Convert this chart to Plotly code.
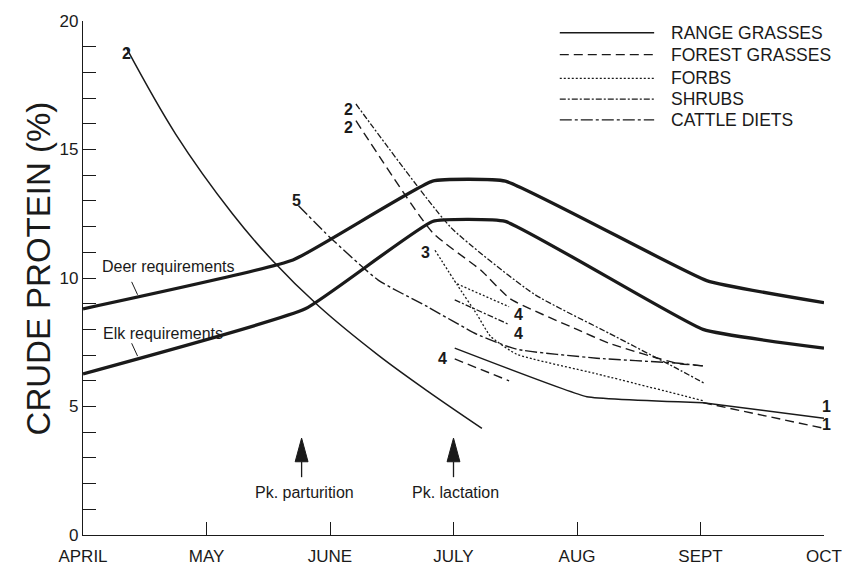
import plotly.graph_objects as go

# ---- axis categories -------------------------------------------------------
months = ["APRIL", "MAY", "JUNE", "JULY", "AUG", "SEPT", "OCT"]
month_pos = [0, 1, 2, 3, 4, 5, 6]          # months after 1 April
y_ticks = [0, 5, 10, 15, 20]
X_MAX, Y_MAX = 6, 20

# ---- animal requirements (crude protein, %) ---------------------------------
deer_x = [0.0, 1.70, 2.83, 3.42, 5.05, 6.0]
deer_y = [8.80, 10.70, 13.77, 13.77, 9.90, 9.04]
elk_x = [0.0, 1.80, 2.83, 3.42, 5.02, 6.0]
elk_y = [6.27, 8.80, 12.20, 12.20, 8.00, 7.27]

# ---- forage series, numbered by source -------------------------------------
range2_x = [0.35, 0.75, 1.21, 1.53, 1.91, 2.39, 2.79, 3.23]
range2_y = [18.96, 15.60, 12.50, 10.70, 8.90, 7.00, 5.60, 4.15]
range4_x = [3.01, 4.08, 5.02]
range4_y = [7.27, 5.38, 5.15]
range1_x = [5.02, 6.0]
range1_y = [5.15, 4.54]

forest2_x = [2.21, 2.83, 3.22, 3.46, 4.00, 4.26, 4.80, 5.02]
forest2_y = [16.12, 11.77, 10.31, 9.19, 8.00, 7.46, 6.69, 6.58]
forest4_x = [3.01, 3.45]
forest4_y = [6.85, 6.00]
forest1_x = [5.02, 6.0]
forest1_y = [5.15, 4.15]

forbs3_x = [2.85, 3.03, 3.19, 3.30, 3.51, 4.16, 5.02]
forbs3_y = [11.08, 9.73, 8.58, 7.73, 7.04, 6.27, 5.23]
forbs4_x = [3.03, 3.45]
forbs4_y = [9.77, 8.88]

shrubs2_x = [2.21, 2.98, 3.65, 4.26, 4.80, 5.04]
shrubs2_y = [16.77, 11.96, 9.38, 7.85, 6.50, 5.88]
shrubs4_x = [3.01, 3.45]
shrubs4_y = [9.15, 8.19]

cattle5_x = [1.745, 2.00, 2.39, 2.79, 3.19, 3.51, 4.16, 4.80, 5.02]
cattle5_y = [12.81, 11.58, 9.92, 8.88, 7.81, 7.23, 6.88, 6.69, 6.58]

# source numbers written beside the lines: (x, y, text)
source_labels = [
    (0.30, 19.15, "2"), (2.15, 16.96, "2"), (2.15, 16.27, "2"),
    (1.68, 13.00, "5"), (2.77, 11.00, "3"), (3.53, 8.58, "4"),
    (3.53, 7.85, "4"), (2.91, 6.85, "4"), (6.07, 4.58, "1"),
    (6.07, 3.88, "1"),
]

# peak events marked with arrows
events = ["Pk. parturition", "Pk. lactation"]
event_x = [1.77, 3.00]

legend_names = ["RANGE GRASSES", "FOREST GRASSES", "FORBS", "SHRUBS", "CATTLE DIETS"]

INK = "#1a1a1a"
FONT = "Liberation Sans, Arial, sans-serif"

STYLE = {
    "RANGE GRASSES": dict(dash="solid", width=1.5),
    "FOREST GRASSES": dict(dash="9px,5px", width=1.4),
    "FORBS": dict(dash="2px,2px", width=1.3),
    "SHRUBS": dict(dash="6px,2px,2px,2px", width=1.3),
    "CATTLE DIETS": dict(dash="12px,3px,3px,3px", width=1.4),
}

fig = go.Figure()


def add_line(x, y, kind=None, width=None, smooth=0.5):
    st = STYLE.get(kind, dict(dash="solid", width=1.5))
    fig.add_trace(go.Scatter(
        x=x, y=y, mode="lines", showlegend=False, hoverinfo="skip",
        line=dict(color=INK, width=width or st["width"], dash=st["dash"],
                  shape="spline", smoothing=smooth),
    ))


# requirement lines (heavy)
add_line(deer_x, deer_y, width=3.3, smooth=0.35)
add_line(elk_x, elk_y, width=3.3, smooth=0.35)

# forage lines
add_line(range2_x, range2_y, "RANGE GRASSES", smooth=1.0)
add_line(range4_x, range4_y, "RANGE GRASSES", smooth=0.3)
add_line(range1_x, range1_y, "RANGE GRASSES")
add_line(forest2_x, forest2_y, "FOREST GRASSES")
add_line(forest4_x, forest4_y, "FOREST GRASSES")
add_line(forest1_x, forest1_y, "FOREST GRASSES")
add_line(forbs3_x, forbs3_y, "FORBS")
add_line(forbs4_x, forbs4_y, "FORBS")
add_line(shrubs2_x, shrubs2_y, "SHRUBS")
add_line(shrubs4_x, shrubs4_y, "SHRUBS")
add_line(cattle5_x, cattle5_y, "CATTLE DIETS")

annotations = []
shapes = []

# source numbers (placed in axis fractions so the ones past OCT still show)
for sx, sy, st in source_labels:
    annotations.append(dict(x=sx / X_MAX, y=sy / Y_MAX, xref="paper", yref="paper",
                            text=f"<b>{st}</b>", showarrow=False,
                            font=dict(family=FONT, size=16, color=INK)))

# requirement labels with short leaders
annotations.append(dict(x=0.69, y=10.46, xref="x", yref="y", text="Deer requirements",
                        showarrow=False, font=dict(family=FONT, size=16, color=INK)))
annotations.append(dict(x=0.645, y=7.85, xref="x", yref="y", text="Elk requirements",
                        showarrow=False, font=dict(family=FONT, size=16, color=INK)))
shapes.append(dict(type="line", xref="x", yref="y", x0=0.394, y0=9.85, x1=0.442, y1=9.35,
                   line=dict(color=INK, width=1)))
shapes.append(dict(type="line", xref="x", yref="y", x0=0.394, y0=7.46, x1=0.442, y1=6.96,
                   line=dict(color=INK, width=1)))

# event arrows
for name, ex in zip(events, event_x):
    shapes.append(dict(type="path", xref="x", yref="y",
                       path=f"M {ex-0.052},2.85 L {ex},3.77 L {ex+0.052},2.85 Z",
                       fillcolor=INK, line=dict(color=INK, width=1)))
    shapes.append(dict(type="line", xref="x", yref="y", x0=ex, y0=2.85, x1=ex, y1=2.25,
                       line=dict(color=INK, width=1.3)))
    annotations.append(dict(x=ex + 0.02, y=1.65, xref="x", yref="y", text=name, showarrow=False,
                            font=dict(family=FONT, size=16, color=INK)))

# legend drawn as line samples plus labels
PX0, PY0, PW, PH = 83, 21, 746, 520
legend_rows = [33, 55, 79, 100, 121]
for name, row in zip(legend_names, legend_rows):
    yp = (PY0 + PH - row) / PH
    st = STYLE[name]
    shapes.append(dict(type="line", xref="paper", yref="paper",
                       x0=(563 - PX0) / PW, x1=(658 - PX0) / PW, y0=yp, y1=yp,
                       line=dict(color=INK, width=st["width"], dash=st["dash"])))
    annotations.append(dict(x=(673 - PX0) / PW, y=yp, xref="paper", yref="paper",
                            xanchor="left", yanchor="middle", text=name, showarrow=False,
                            font=dict(family=FONT, size=17.5, color=INK)))

# y-axis title
annotations.append(dict(x=(38 - PX0) / PW, y=(PY0 + PH - 271) / PH, xref="paper", yref="paper",
                        xanchor="center", yanchor="middle",
                        text="CRUDE PROTEIN (%)", textangle=-90, showarrow=False,
                        font=dict(family=FONT, size=33, color=INK)))

fig.update_layout(
    width=854, height=578,
    margin=dict(l=83, r=25, t=21, b=37),
    paper_bgcolor="white", plot_bgcolor="white",
    showlegend=False,
    font=dict(family=FONT, color=INK),
    annotations=annotations, shapes=shapes,
    xaxis=dict(range=[0, X_MAX], tickvals=month_pos, ticktext=months,
               ticks="inside", ticklen=13, tickwidth=1.2, tickcolor=INK,
               ticklabelstandoff=5,
               showline=True, linewidth=1.4, linecolor=INK,
               showgrid=False, zeroline=False,
               tickfont=dict(family=FONT, size=17, color=INK)),
    yaxis=dict(range=[0, Y_MAX], tickvals=y_ticks,
               ticks="inside", ticklen=13, tickwidth=1.2, tickcolor=INK,
               minor=dict(dtick=1, ticks="inside", ticklen=13, tickwidth=1.2, tickcolor=INK),
               showline=True, linewidth=1.4, linecolor=INK,
               showgrid=False, zeroline=False,
               tickfont=dict(family=FONT, size=17, color=INK)),
)

fig.write_html("out.html")
